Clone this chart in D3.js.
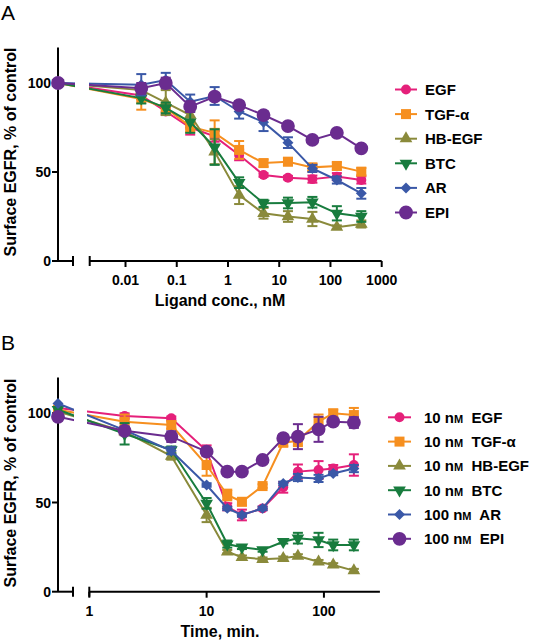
<!DOCTYPE html>
<html>
<head>
<meta charset="utf-8">
<script src="https://cdn.jsdelivr.net/npm/d3@7"></script>
<style>
  html, body { margin: 0; padding: 0; background: #fff; }
  svg { display: block; font-family: "Liberation Sans", Arial, sans-serif; }
</style>
</head>
<body>
<svg id="chart" width="533" height="642"></svg>
<script>
// ---------------- DATA ----------------
const seriesNames = ["EGF", "TGF-α", "HB-EGF", "BTC", "AR", "EPI"];
const seriesColors = ["#e5207a", "#f68f1f", "#8a8a3b", "#187c3e", "#3a58a7", "#6a2c8f"];
const seriesShapes = ["circle", "square", "triangleUp", "triangleDown", "diamond", "bigCircle"];

// Panel A: ligand concentration (nM); control (0 nM) plotted at axis origin
const concA = [0.0203, 0.061, 0.183, 0.549, 1.65, 4.94, 14.8, 44.4, 133.3, 400];
const aEGF   = [100, 93, 84, 75, 70, 59.6, 48.3, 46.8, 46, 47.4, 45.5];
const aTGF   = [100, 91, 86, 75.5, 72, 62.4, 55, 55.8, 52.6, 53.4, 50.2];
const aHBEGF = [100, 96, 89, 82, 61.4, 37, 26.8, 25, 23.6, 19, 20.8];
const aBTC   = [100, 91.5, 86, 78, 64, 44, 32.4, 32.6, 33, 26.8, 25];
const aAR    = [100, 99, 101.7, 89.5, 92.7, 84, 78, 66.5, 52, 45.5, 38];
const aEPI   = [100, 97, 100, 86.7, 92.3, 87.6, 82, 75.8, 68, 72, 63.3];
const aErrEGF   = [0, 2, 2, 4, 3, 3, 1, 1, 2, 2, 2];
const aErrTGF   = [0, 6, 3, 3, 7, 5, 2, 2, 2, 2, 2];
const aErrHBEGF = [0, 3, 7, 3, 7, 5, 3, 3, 4, 1, 2];
const aErrBTC   = [0, 3, 3, 6, 10, 3, 2, 3, 3, 4, 3];
const aErrAR    = [0, 6, 4, 4, 5, 4, 5, 3, 2, 2, 3];
const aErrEPI   = [0, 3, 3, 3, 2, 2, 2, 1, 1, 1, 1];

// Panel B: time (min); time 0 plotted at axis origin
const timeB = [2, 5, 10, 15, 20, 30, 45, 60, 90, 120, 180];
const bEGF   = [103, 98.5, 97.2, 79, 47.6, 43, 46.7, 58.5, 67.3, 68.2, 69, 71];
const bTGF   = [102, 95.3, 93.4, 71, 54.2, 50.4, 59.2, 83.5, 84.6, 95.3, 100, 99];
const bHBEGF = [101, 89.7, 76, 43, 22.4, 19.3, 18.2, 18.7, 20, 16.8, 15, 11.8];
const bBTC   = [102, 88.5, 79.4, 49.5, 26.7, 24.9, 23.4, 28, 30, 29, 26.2, 26.2];
const bAR    = [105.5, 90.6, 79, 59.8, 46.7, 43, 46.7, 60.7, 64, 63.5, 66.3, 69];
const bEPI   = [98, 90.2, 86.9, 78.5, 67.3, 67.3, 73.8, 86, 86.9, 91, 95.3, 94.8];
const bErrEGF   = [0, 1.5, 1, 3, 2, 3, 1, 3, 4, 5, 2, 6];
const bErrTGF   = [0, 4, 2, 6, 3, 2, 1, 2, 3, 4, 2, 4];
const bErrHBEGF = [0, 2, 2, 4, 1, 1, 1, 1, 1, 1, 1, 1];
const bErrBTC   = [0, 6, 2, 3, 2, 1, 1, 1, 3, 4, 3, 3];
const bErrAR    = [0, 2, 2, 1, 1, 1, 1, 1, 2, 2, 1, 2];
const bErrEPI   = [0, 2, 3, 2, 2, 2, 1, 2, 7, 7, 2, 3];

const yTicks = [0, 50, 100];
const xTicksA = [0.01, 0.1, 1, 10, 100, 1000];
const xTickLabelsA = ["0.01", "0.1", "1", "10", "100", "1000"];
const xTicksB = [1, 10, 100];
const xTickLabelsB = ["1", "10", "100"];
const legendPrefixB = ["10 ", "10 ", "10 ", "10 ", "100 ", "100 "];

// ---------------- DRAWING ----------------
const svg = d3.select("#chart");
const FONT_BOLD = 700;

function symbolFor(shape) {
  switch (shape) {
    case "circle": return d3.symbol().type(d3.symbolCircle).size(78);
    case "square": return d3.symbol().type(d3.symbolSquare).size(100);
    case "triangleUp": return d3.symbol().type(d3.symbolTriangle).size(70);
    case "triangleDown": return d3.symbol().type(d3.symbolTriangle).size(70);
    case "diamond": return d3.symbol().type(d3.symbolSquare).size(60);
    case "bigCircle": return d3.symbol().type(d3.symbolCircle).size(150);
  }
}
function rotFor(shape) {
  if (shape === "triangleDown") return " rotate(180)";
  if (shape === "diamond") return " rotate(45)";
  return "";
}

function drawPanel(cfg) {
  const g = svg.append("g");
  const x = d3.scaleLog().domain(cfg.xDomain).range(cfg.xRange);
  const y = d3.scaleLinear().domain([0, 120]).range(cfg.yRange);
  const ox = cfg.originX;
  const y0 = y(0);

  // clip path to break lines across the axis gap
  const clipId = "clip" + cfg.id;
  const cp = svg.append("defs").append("clipPath").attr("id", clipId);
  cp.append("rect").attr("x", 0).attr("y", 0).attr("width", cfg.gap[0]).attr("height", 642);
  cp.append("rect").attr("x", cfg.gap[1]).attr("y", 0).attr("width", 533 - cfg.gap[1]).attr("height", 642);

  // Y axis
  g.append("line").attr("x1", ox).attr("x2", ox).attr("y1", y(120)).attr("y2", y0)
    .attr("stroke", "#000").attr("stroke-width", 2);
  yTicks.forEach(t => {
    g.append("line").attr("x1", ox - 6).attr("x2", ox).attr("y1", y(t)).attr("y2", y(t))
      .attr("stroke", "#000").attr("stroke-width", 2);
    g.append("text").attr("x", ox - 7).attr("y", y(t)).attr("dy", "0.36em")
      .attr("text-anchor", "end").attr("font-size", 14).attr("font-weight", FONT_BOLD).text(t);
  });

  // X axis: stub segment + main segment
  g.append("line").attr("x1", ox).attr("x2", cfg.stubEnd).attr("y1", y0).attr("y2", y0)
    .attr("stroke", "#000").attr("stroke-width", 2);
  g.append("line").attr("x1", cfg.stubEnd).attr("x2", cfg.stubEnd).attr("y1", y0 - 5).attr("y2", y0 + 5)
    .attr("stroke", "#000").attr("stroke-width", 2);
  const xr = x.range();
  g.append("line").attr("x1", xr[0]).attr("x2", xr[1]).attr("y1", y0).attr("y2", y0)
    .attr("stroke", "#000").attr("stroke-width", 2);
  g.append("line").attr("x1", xr[0]).attr("x2", xr[0]).attr("y1", y0 - 5).attr("y2", y0 + 5)
    .attr("stroke", "#000").attr("stroke-width", 2);
  cfg.xTicks.forEach((t, i) => {
    g.append("line").attr("x1", x(t)).attr("x2", x(t)).attr("y1", y0).attr("y2", y0 + 6)
      .attr("stroke", "#000").attr("stroke-width", 2);
    g.append("text").attr("x", x(t)).attr("y", y0 + 24)
      .attr("text-anchor", "middle").attr("font-size", 14).attr("font-weight", FONT_BOLD)
      .text(cfg.xTickLabels[i]);
  });

  // axis titles
  g.append("text").attr("x", cfg.xTitleX).attr("y", y0 + 45).attr("text-anchor", "middle")
    .attr("font-size", 16).attr("font-weight", FONT_BOLD).text(cfg.xTitle);
  g.append("text").attr("transform", `translate(16,${cfg.yTitleY}) rotate(-90)`)
    .attr("text-anchor", "middle").attr("font-size", 16).attr("font-weight", FONT_BOLD)
    .text("Surface EGFR, % of control");
  g.append("text").attr("x", 1).attr("y", cfg.letterY).attr("font-size", 21)
    .text(cfg.letter);

  // series
  cfg.series.forEach((vals, si) => {
    const color = seriesColors[si];
    const errs = cfg.errors[si];
    const pts = vals.map((v, i) => ({
      px: i === 0 ? ox : x(cfg.xVals[i - 1]),
      py: y(v), v: v, e: errs[i]
    }));
    const sg = g.append("g");
    sg.append("path").datum(pts)
      .attr("d", d3.line().x(d => d.px).y(d => d.py))
      .attr("fill", "none").attr("stroke", color).attr("stroke-width", 2)
      .attr("clip-path", `url(#${clipId})`);
    pts.forEach(d => {
      if (!d.e) return;
      const top = y(d.v + d.e), bot = y(d.v - d.e);
      sg.append("line").attr("x1", d.px).attr("x2", d.px).attr("y1", top).attr("y2", bot)
        .attr("stroke", color).attr("stroke-width", 2);
      [top, bot].forEach(yy => sg.append("line").attr("x1", d.px - 5).attr("x2", d.px + 5)
        .attr("y1", yy).attr("y2", yy).attr("stroke", color).attr("stroke-width", 2));
    });
    const sym = symbolFor(seriesShapes[si]);
    const rot = rotFor(seriesShapes[si]);
    pts.forEach(d => {
      sg.append("path").attr("d", sym()).attr("fill", color)
        .attr("transform", `translate(${d.px},${d.py})${rot}`);
    });
  });

  // legend
  seriesNames.forEach((name, si) => {
    const ly = cfg.legendY + si * cfg.legendDy;
    const lg = g.append("g");
    lg.append("line").attr("x1", cfg.legendX0).attr("x2", cfg.legendX1).attr("y1", ly).attr("y2", ly)
      .attr("stroke", seriesColors[si]).attr("stroke-width", 2);
    lg.append("path").attr("d", symbolFor(seriesShapes[si])()).attr("fill", seriesColors[si])
      .attr("transform", `translate(${(cfg.legendX0 + cfg.legendX1) / 2},${ly})${rotFor(seriesShapes[si])}`);
    const t = lg.append("text").attr("x", cfg.legendTextX).attr("y", ly).attr("dy", "0.36em")
      .attr("font-size", 15).attr("font-weight", FONT_BOLD);
    if (cfg.id === "B") {
      t.append("tspan").text(legendPrefixB[si] + "n");
      t.append("tspan").attr("font-size", 11).text("M");
      t.append("tspan").text("\u00A0 " + name);
    } else {
      t.text(name);
    }
  });
}

drawPanel({
  id: "A", letter: "A", letterY: 20,
  xDomain: [0.002, 1000], xRange: [89.7, 381.7], yRange: [261, 47.4],
  originX: 58, stubEnd: 73, gap: [75, 89],
  xTicks: xTicksA, xTickLabels: xTickLabelsA,
  xTitle: "Ligand conc., nM", xTitleX: 220, yTitleY: 152,
  xVals: concA,
  series: [aEGF, aTGF, aHBEGF, aBTC, aAR, aEPI],
  errors: [aErrEGF, aErrTGF, aErrHBEGF, aErrBTC, aErrAR, aErrEPI],
  legendX0: 395, legendX1: 417, legendTextX: 425, legendY: 89.5, legendDy: 24.6
});

drawPanel({
  id: "B", letter: "B", letterY: 350,
  xDomain: [1, 300], xRange: [89.3, 379.9], yRange: [591.7, 377.6],
  originX: 58, stubEnd: 73, gap: [74, 87],
  xTicks: xTicksB, xTickLabels: xTickLabelsB,
  xTitle: "Time, min.", xTitleX: 220, yTitleY: 483,
  xVals: timeB,
  series: [bEGF, bTGF, bHBEGF, bBTC, bAR, bEPI],
  errors: [bErrEGF, bErrTGF, bErrHBEGF, bErrBTC, bErrAR, bErrEPI],
  legendX0: 388, legendX1: 411, legendTextX: 424, legendY: 417.3, legendDy: 24.3
});
</script>
</body>
</html>
